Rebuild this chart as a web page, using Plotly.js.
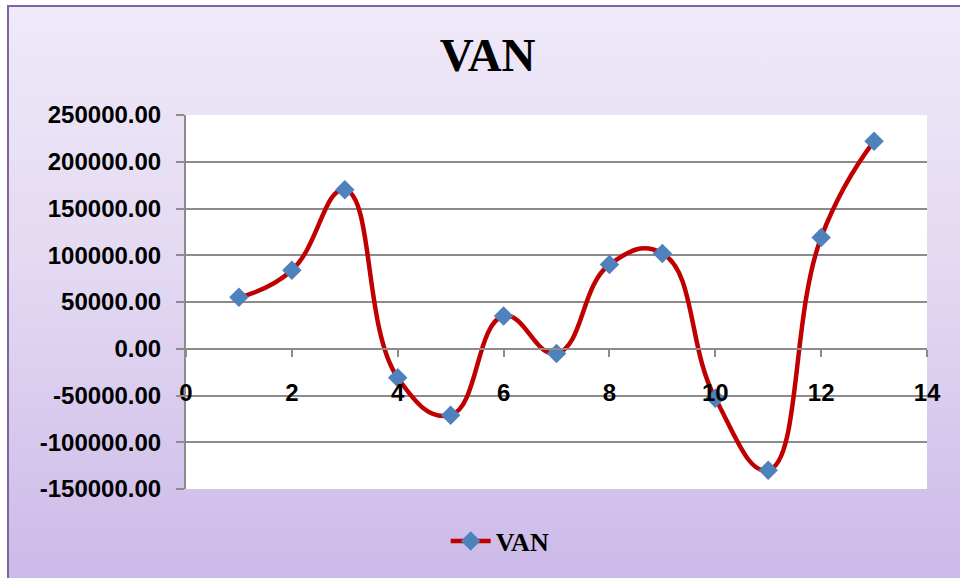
<!DOCTYPE html>
<html>
<head>
<meta charset="utf-8">
<script src="https://cdn.plot.ly/plotly-3.0.1.min.js"></script>
<style>
  html, body { margin: 0; padding: 0; width: 960px; height: 578px; overflow: hidden; background: #ffffff; }
  #frame { position: absolute; left: 7px; top: 5px; width: 960px; height: 580px;
           border-left: 2px solid #8064a2; border-top: 2px solid #8064a2;
           background: linear-gradient(to bottom, #efe9f8 0%, #e3d9f2 45%, #cbb9e8 100%); }
  #chart { position: absolute; left: 0; top: 0; width: 960px; height: 578px; }
</style>
</head>
<body>
<div id="frame"></div>
<div id="chart"></div>
<script>
const periods = [1, 2, 3, 4, 5, 6, 7, 8, 9, 10, 11, 12, 13];
const vanValues = [55000, 84000, 170000, -31000, -71000, 35000, -5000, 90000, 102000, -53000, -130000, 119000, 222000];
const seriesName = 'VAN';
const chartTitle = 'VAN';
const yTicks = [-150000, -100000, -50000, 0, 50000, 100000, 150000, 200000, 250000];
const xTicks = [0, 2, 4, 6, 8, 10, 12, 14];

const gridColor = '#8c8c8c';
const tickFont = { family: '"Liberation Sans", Arial, sans-serif', size: 24, color: '#000000', weight: 'bold' };

const trace = {
  x: periods,
  y: vanValues,
  name: seriesName,
  type: 'scatter',
  mode: 'lines+markers',
  line: { color: '#c00000', width: 4.5, shape: 'spline', smoothing: 1.3 },
  marker: { symbol: 'diamond', size: 15, color: '#4f81bd', line: { width: 0 } }
};

const layout = {
  width: 960,
  height: 578,
  paper_bgcolor: 'rgba(0,0,0,0)',
  plot_bgcolor: '#ffffff',
  margin: { l: 186, r: 33, t: 115, b: 89 },
  title: {
    text: '<b>' + chartTitle + '</b>',
    font: { family: '"Liberation Serif", "DejaVu Serif", serif', size: 47, color: '#000000' },
    x: 0.508, xanchor: 'center',
    y: 0.905, yanchor: 'middle', yref: 'container'
  },
  showlegend: true,
  legend: {
    orientation: 'h',
    x: 0.424, xanchor: 'center',
    y: -0.139, yanchor: 'middle',
    font: { family: '"Liberation Serif", serif', size: 26, color: '#000000', weight: 'bold' },
    bgcolor: 'rgba(0,0,0,0)',
    itemwidth: 40
  },
  xaxis: {
    range: [0, 14],
    tickvals: xTicks,
    ticktext: xTicks.map(String),
    anchor: 'free',
    position: 0.375,
    showgrid: false,
    zeroline: false,
    showline: true,
    linecolor: gridColor,
    linewidth: 2,
    ticks: 'outside',
    ticklen: 7,
    tickwidth: 2,
    tickcolor: gridColor,
    ticklabelstandoff: 15,
    tickfont: tickFont
  },
  yaxis: {
    range: [-150000, 250000],
    tickvals: yTicks,
    ticktext: yTicks.map(v => v.toFixed(2)),
    showgrid: true,
    gridcolor: gridColor,
    gridwidth: 2,
    zeroline: false,
    showline: true,
    linecolor: gridColor,
    linewidth: 2,
    ticks: 'outside',
    ticklen: 8,
    tickwidth: 2,
    tickcolor: gridColor,
    ticklabelstandoff: 10,
    tickfont: tickFont
  }
};

Plotly.newPlot('chart', [trace], layout, { displayModeBar: false, staticPlot: true });
</script>
</body>
</html>
